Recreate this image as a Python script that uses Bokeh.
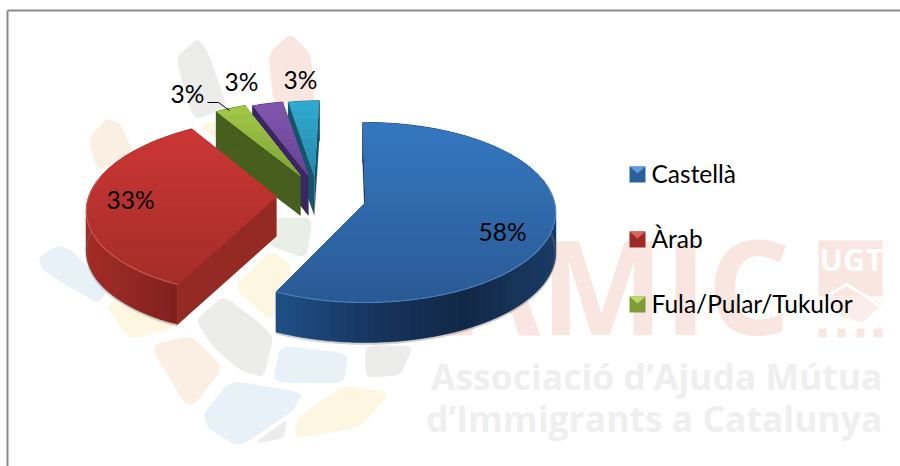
import numpy as np
from bokeh.plotting import figure
from bokeh.models import Range1d
from bokeh.core.properties import value
from bokeh.embed import file_html
from bokeh.resources import INLINE

# ---- data
slice_values = [58, 33, 3, 3, 3]
legend_labels = ["Castellà", "Àrab", "Fula/Pular/Tukulor"]

# ---- style / layout
W, H = 900, 466
LABEL_FONT = value("Lato")
CX, CY, RX, RY, K, DEPTH = 365.0, 202.0, 189.0, 88.9, 0.111, 40.0
explode_u = [0.0, -0.475, -0.356, -0.3125, -0.28]
explode_v = [0.0, 0.068, 0.31, 0.31, 0.31]
start_trim_deg = [-1.0, -3.6, 0, 0, 0]
end_trim_deg = [3.6, 0, 0, 0, 0]
top_colors = [("#3477c0", "#2a5a95"), ("#cb3634", "#a52d29"), ("#a0c646", "#7fa636"),
              ("#7f55ab", "#6a4496"), ("#2fa9ce", "#2a8aac")]
cut_colors = ["#1a3f70", "#952a24", "#465e1e", "#3a2662", "#16546c"]
side_stops = [["#1f4f86", "#17355f", "#122847", "#1b3d68"], ["#a32c27", "#962824", "#86231f", "#7a1f1b"],
              ["#465e1e"] * 4, ["#3a2662"] * 4, ["#16546c"] * 4]
rim_colors = ["#6a9ad2", "#d8736a", "#b5d56a", "#9272bb", "#58bfdc"]
paint_order = [4, 3, 2, 1, 0]
label_x = [502, 130, 187, 241, 300]
label_y = [231, 199, 93, 81, 79]
legend_x, legend_y = 637, [174, 239, 304]
legend_base = ["#2a5f9e", "#9c2b28", "#7d9c35"]
legend_top = ["#5f9bdc", "#dc625c", "#b8d86c"]
PEACH, CREAM, BLUE_P, GREY_P, PINK, GREEN_P = "#fbeee2", "#fdf6e0", "#e8f0f8", "#ecedeb", "#fae6e0", "#e9efe6"
logo = [
    (BLUE_P, [(38, 257), (57, 245), (72, 250), (107, 290), (97, 303), (42, 270)]),
    (CREAM, [(107, 308), (113, 300), (133, 310), (173, 323), (173, 327), (140, 337), (128, 337)]),
    (PEACH, [(150, 345), (190, 335), (223, 367), (193, 405), (183, 402)]),
    (GREY_P, [(195, 320), (223, 295), (260, 323), (273, 337), (263, 377), (240, 370), (213, 347)]),
    (BLUE_P, [(280, 345), (348, 353), (343, 383), (272, 382)]),
    (GREY_P, [(365, 345), (413, 345), (400, 375), (365, 377)]),
    (BLUE_P, [(230, 380), (302, 392), (293, 410), (238, 447), (207, 427), (203, 413)]),
    (CREAM, [(343, 385), (390, 392), (360, 427), (295, 438), (297, 417)]),
    (GREY_P, [(287, 418), (283, 438), (253, 443)]),
    (CREAM, [(233, 287), (270, 250), (292, 265), (273, 323)]),
    (GREEN_P, [(275, 217), (312, 217), (306, 258), (268, 245)]),
    (GREY_P, [(175, 57), (197, 38), (207, 50), (227, 107), (193, 120)]),
    (PINK, [(268, 53), (290, 33), (310, 53), (315, 103), (273, 103)]),
    (PEACH, [(88, 140), (105, 118), (120, 123), (133, 153), (97, 170)]),
    (CREAM, [(200, 125), (215, 120), (216, 140)]),
]


def chaikin(pts, n=2):
    pts = np.array(pts, float)
    for _ in range(n):
        nxt = np.roll(pts, -1, axis=0)
        q = 0.88 * pts + 0.12 * nxt
        r = 0.12 * pts + 0.88 * nxt
        pts = np.stack([q, r], axis=1).reshape(-1, 2)
    return pts


def hex2rgb(c):
    return np.array([int(c[i:i + 2], 16) for i in (1, 3, 5)], float)


def mix(stops, t):
    t = min(max(t, 0.0), 1.0) * (len(stops) - 1)
    i = min(int(t), len(stops) - 2)
    f = t - i
    c = hex2rgb(stops[i]) * (1 - f) + hex2rgb(stops[i + 1]) * f
    return "#%02x%02x%02x" % tuple(int(round(v)) for v in c)


def proj(u, v):
    s = 1.0 / (1.0 + K * v)
    return CX + RX * u * s, CY - RY * v * s


def clip_below(x, y, y0):
    ox, oy = [], []
    n = len(x)
    for i in range(n):
        j = (i + 1) % n
        a, b = y[i] >= y0, y[j] >= y0
        if a:
            ox.append(x[i]); oy.append(y[i])
        if a != b:
            f = (y0 - y[i]) / (y[j] - y[i])
            ox.append(x[i] + f * (x[j] - x[i])); oy.append(y0)
    return ox, oy


p = figure(width=W, height=H, x_range=Range1d(0, W), y_range=Range1d(H, 0),
           output_backend="svg", toolbar_location=None, min_border=0,
           background_fill_color="white", border_fill_color="white", outline_line_color=None)
p.axis.visible = False
p.grid.visible = False

# ---- watermark
lx, ly, lc = [], [], []
for col, pts in logo:
    q = chaikin(pts)
    lx.append(q[:, 0].tolist()); ly.append(q[:, 1].tolist()); lc.append(col)
p.patches(lx, ly, fill_color=lc, line_color=None)
p.text([790], [283], text=["AMIC"], text_font=value("Open Sans"), text_font_style="bold",
       text_font_size="131px", text_color=PINK, text_align="right", text_baseline="middle")
p.quad(left=[818], right=[882], top=[240], bottom=[296], fill_color=PINK, line_color=None)
p.patch([826, 870, 882, 862, 840], [296, 296, 304, 322, 316], fill_color=PINK, fill_alpha=0.7, line_color=None)
p.text([851], [258], text=["UGT"], text_font=value("Open Sans"), text_font_style="bold",
       text_font_size="31px", text_color="#ffffff", text_align="center", text_baseline="middle")
p.quad(left=[818, 837, 856, 873], right=[826, 845, 864, 882], top=[328] * 4, bottom=[337] * 4,
       fill_color=PINK, line_color=None)
p.line([826, 846, 866, 880], [296, 284, 296, 306], line_color="#ffffff", line_width=3)
p.text([882, 882], [375, 417], text=["Associació d’Ajuda Mútua", "d’Immigrants a Catalunya"],
       text_font=value("Open Sans"), text_font_style="bold", text_font_size="35.5px", text_color="#efefef",
       text_align="right", text_baseline="middle")

# ---- pie
fracs = np.array(slice_values, float) / sum(slice_values)
edges = np.concatenate([[0.0], np.cumsum(fracs)]) * 2 * np.pi
for idx in paint_order:
    a0 = edges[idx] + np.radians(start_trim_deg[idx])
    a1 = edges[idx + 1] - np.radians(end_trim_deg[idx])
    n = max(int((a1 - a0) / np.radians(2)), 2)
    ang = np.linspace(a0, a1, n + 1)
    eu, ev = explode_u[idx], explode_v[idx]
    xa, ya = proj(eu + np.sin(ang), ev + np.cos(ang))
    xc, yc = proj(eu, ev)
    xb, yb = xa, ya + DEPTH
    xcb, ycb = xc, yc + DEPTH

    # cut walls
    for (xe, ye, xeb, yeb) in ((xa[0], ya[0], xb[0], yb[0]), (xa[-1], ya[-1], xb[-1], yb[-1])):
        p.patch([xc, xe, xeb, xcb], [yc, ye, yeb, ycb], fill_color=cut_colors[idx], line_color=None)

    # outer wall, in narrow segments shaded along x
    xmin, xmax = xb.min(), xb.max()
    sx, sy, sc_col = [], [], []
    for i in range(n):
        j = min(i + 2, n)
        sx.append([xa[i], xa[j], xb[j], xb[i]])
        sy.append([ya[i], ya[j], yb[j], yb[i]])
        sc_col.append(mix(side_stops[idx], (0.5 * (xa[i] + xa[j]) - xmin) / max(xmax - xmin, 1)))
    p.patches(sx, sy, fill_color=sc_col, line_color=sc_col, line_width=0.4)

    # soft shadow below the wall of large slices
    if idx < 2:
        mask = np.cos(ang) < 0.15
        p.line(xb[mask], yb[mask] + 1.2, line_color="#777777", line_alpha=0.35, line_width=2.2)

    # top face, in overlapping horizontal bands
    fx = [xc] + xa.tolist()
    fy = [yc] + ya.tolist()
    ymin, ymax = min(fy), max(fy)
    bands = 24 if idx < 2 else 8
    for k in range(bands):
        y0 = ymin + (ymax - ymin) * k / bands
        cx_, cy_ = clip_below(fx, fy, y0) if k else (fx, fy)
        if len(cx_) >= 3:
            p.patch(cx_, cy_, fill_color=mix(list(top_colors[idx]), k / (bands - 1)), line_color=None)

    # lit rim
    if idx < 2:
        mask = np.cos(ang) < 0.25
        p.line(xa[mask], ya[mask], line_color=rim_colors[idx], line_width=1.2, line_alpha=0.6)

# ---- leader line, labels
p.line([207, 218, 229], [102, 102, 110], line_color="#000000", line_width=1)
p.text(label_x, label_y, text=[f"{v}%" for v in slice_values], text_font=LABEL_FONT, text_font_size="24.5px",
       text_color="#000000", text_align="center", text_baseline="middle")

# ---- legend
S = 8
for yy, b, t in zip(legend_y, legend_base, legend_top):
    p.patch([legend_x - S, legend_x + S, legend_x + S, legend_x - S],
            [yy - S, yy - S, yy + S, yy + S], fill_color=b, line_color=None)
    p.patch([legend_x - S, legend_x + S, legend_x], [yy - S, yy - S, yy - 1], fill_color=t, line_color=None)
p.text([651] * 3, [y - 1 for y in legend_y], text=legend_labels, text_font=LABEL_FONT, text_font_size="24.5px",
       text_color="#000000", text_align="left", text_baseline="middle")

# ---- chart frame (top and left sides)
p.line([7, 900], [10, 10], line_color="#8a8a8a", line_width=2)
p.line([7, 7], [10, 466], line_color="#8a8a8a", line_width=2)

open("out.html", "w").write(file_html(p, INLINE))
